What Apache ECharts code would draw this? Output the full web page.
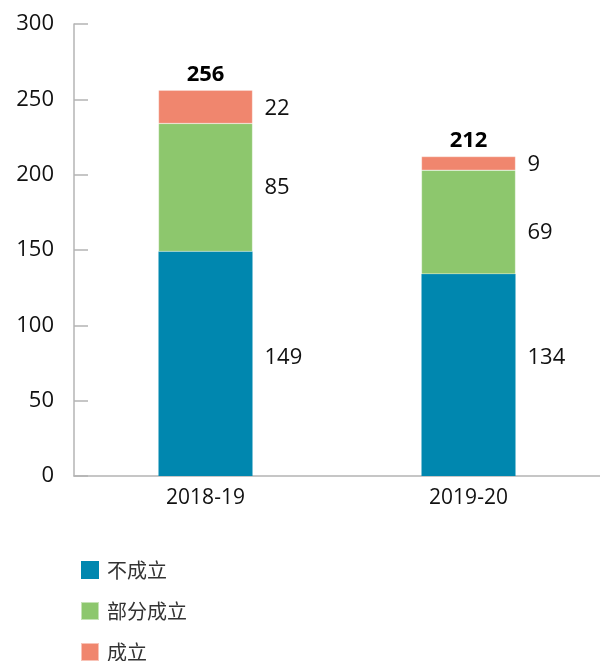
<!DOCTYPE html>
<html>
<head>
<meta charset="utf-8">
<script src="https://cdn.jsdelivr.net/npm/echarts@6/dist/echarts.min.js"></script>
<style>
  html, body { margin: 0; padding: 0; background: #fff; }
  #chart { width: 600px; height: 661px; }
</style>
</head>
<body>
<div id="chart"></div>
<script>
// 年度
const categories = ["2018-19", "2019-20"];
// 各类数字
const notEstablished = [149, 134];
const partlyEstablished = [85, 69];
const established = [22, 9];
const totals = [256, 212];
const yTicks = [0, 50, 100, 150, 200, 250, 300];

const font = "'Open Sans', 'Noto Sans CJK SC', sans-serif";

const chart = echarts.init(document.getElementById("chart"), null, { renderer: "canvas" });

function segLabel(extra) {
  return Object.assign({
    show: true,
    position: "right",
    distance: 12,
    color: "#111",
    fontSize: 22,
    fontFamily: font,
  }, extra || {});
}

// 标签位置微调（原图里标签不是正好居中）
function withOffsets(values, offsets) {
  return values.map((v, i) => ({ value: v, label: { offset: [0, offsets[i]] } }));
}

const option = {
  animation: false,
  grid: { left: 74, right: 0, top: 24, bottom: 185 },
  legend: {
    orient: "vertical",
    left: 80,
    top: 560,
    height: 120,
    padding: 0,
    itemWidth: 18,
    itemHeight: 18,
    itemGap: 21,
    icon: "rect",
    data: ["不成立", "部分成立", "成立"],
    textStyle: { fontSize: 20, lineHeight: 20, color: "#333", fontFamily: "'Noto Sans CJK SC', sans-serif", padding: [0, 0, 0, 3] },
  },
  xAxis: {
    type: "category",
    data: categories,
    axisLine: { lineStyle: { color: "#b4b4b4", width: 1.5 } },
    axisTick: { show: false },
    axisLabel: { color: "#111", fontSize: 21, fontFamily: font, margin: 12 },
  },
  yAxis: {
    type: "value",
    min: yTicks[0],
    max: yTicks[yTicks.length - 1],
    interval: 50,
    splitLine: { show: false },
    axisLine: { show: true, lineStyle: { color: "#b4b4b4", width: 1.5 } },
    axisTick: { show: true, inside: true, length: 14, lineStyle: { color: "#b4b4b4", width: 1.5 } },
    axisLabel: { color: "#111", fontSize: 22, fontFamily: font, margin: 20 },
  },
  series: [
    {
      name: "不成立",
      type: "bar",
      stack: "total",
      barWidth: 94,
      data: withOffsets(notEstablished, [-6, -17]),
      itemStyle: { color: "#0087af" },
      label: segLabel(),
    },
    {
      name: "部分成立",
      type: "bar",
      stack: "total",
      data: withOffsets(partlyEstablished, [0, 11]),
      itemStyle: { color: "#8dc76d", borderColor: "rgba(255,255,255,0.5)", borderWidth: 0.5 },
      label: segLabel(),
    },
    {
      name: "成立",
      type: "bar",
      stack: "total",
      data: withOffsets(established, [2, 1]),
      itemStyle: { color: "#f0866e", borderColor: "rgba(255,255,255,0.5)", borderWidth: 0.5 },
      label: segLabel(),
    },
    {
      name: "合计",
      type: "bar",
      barWidth: 94,
      barGap: "-100%",
      z: 0,
      data: totals,
      itemStyle: { color: "rgba(0,0,0,0)" },
      label: {
        show: true,
        position: "top",
        distance: 5,
        color: "#000",
        fontSize: 22,
        fontWeight: "bold",
        fontFamily: font,
      },
      silent: true,
    },
  ],
};

chart.setOption(option);
</script>
</body>
</html>
